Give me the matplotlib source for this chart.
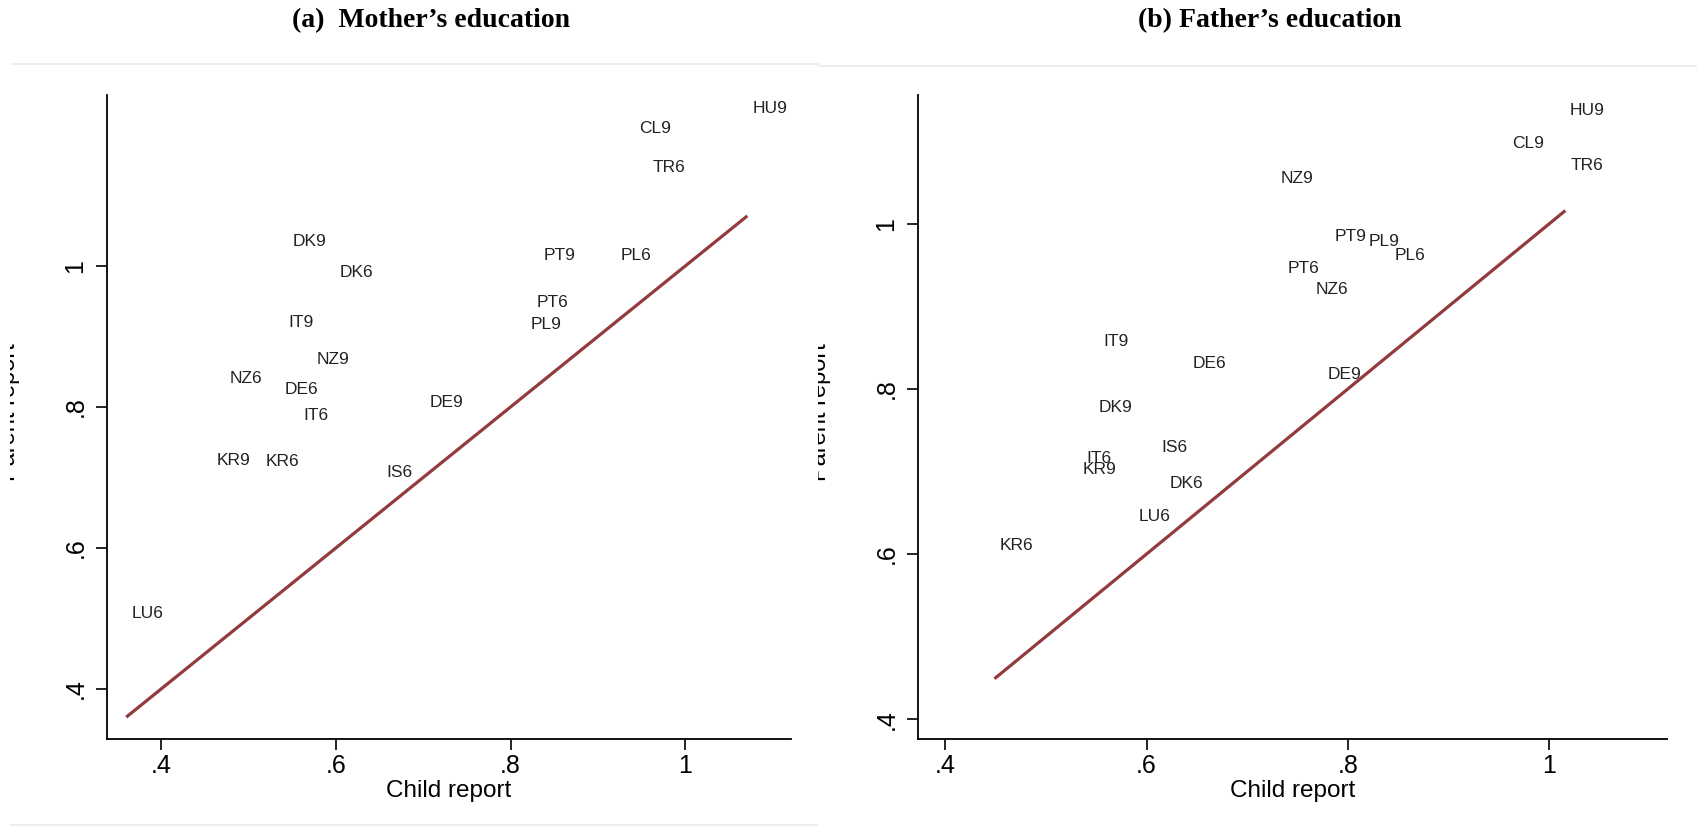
import matplotlib
matplotlib.use("Agg")
import matplotlib.pyplot as plt
from matplotlib.lines import Line2D
from matplotlib.transforms import Bbox

# valores por pais-grado: reporte del hijo vs reporte del padre/madre
cod_madre = ["HU9", "CL9", "TR6", "DK9", "DK6", "PT9", "PL6", "PT6", "PL9", "IT9",
             "NZ9", "NZ6", "DE6", "IT6", "DE9", "KR9", "KR6", "IS6", "LU6"]
hijo_madre = [1.071, 0.941, 0.956, 0.544, 0.598, 0.831, 0.920, 0.824, 0.817, 0.539,
              0.572, 0.472, 0.535, 0.556, 0.701, 0.457, 0.513, 0.651, 0.360]
padres_madre = [1.224, 1.195, 1.140, 1.034, 0.991, 1.015, 1.015, 0.948, 0.917, 0.920,
                0.867, 0.840, 0.825, 0.788, 0.807, 0.724, 0.722, 0.707, 0.507]

cod_padre = ["HU9", "CL9", "TR6", "NZ9", "PT9", "PL9", "PL6", "PT6", "NZ6", "IT9",
             "DE6", "DE9", "DK9", "IS6", "IT6", "KR9", "DK6", "LU6", "KR6"]
hijo_padre = [1.015, 0.958, 1.016, 0.728, 0.781, 0.815, 0.841, 0.735, 0.762, 0.552,
              0.640, 0.774, 0.547, 0.609, 0.535, 0.531, 0.617, 0.587, 0.449]
padres_padre = [1.137, 1.097, 1.071, 1.055, 0.985, 0.979, 0.961, 0.946, 0.921, 0.858,
                0.831, 0.818, 0.777, 0.729, 0.716, 0.703, 0.686, 0.645, 0.610]

ticks = [0.4, 0.6, 0.8, 1.0]
tick_txt = [".4", ".6", ".8", "1"]

plt.rcParams["font.family"] = ["Liberation Sans", "DejaVu Sans"]

W, H = 1697, 826
fig = plt.figure(figsize=(W / 100, H / 100), dpi=100)


def panel(rect, cods, xs, ys, xlim, ylim):
    ax = fig.add_axes(rect)
    lo, hi = min(xs), max(xs)
    ax.plot([lo, hi], [lo, hi], color="#933a3e", lw=2.3, solid_capstyle="butt", zorder=1)
    for c, x, y in zip(cods, xs, ys):
        ax.annotate(c, (x, y), xytext=(4, 0), textcoords="offset points",
                    ha="left", va="center", fontsize=12.5, color="#222222")
    ax.set_xlim(*xlim)
    ax.set_ylim(*ylim)
    ax.set_xticks(ticks, tick_txt)
    ax.set_yticks(ticks, tick_txt)
    for s in ["top", "right"]:
        ax.spines[s].set_visible(False)
    for s in ["left", "bottom"]:
        ax.spines[s].set_linewidth(1.3)
    ax.tick_params(axis="both", direction="out", length=8, width=1.2, labelsize=18)
    ax.tick_params(axis="x", pad=3)
    ax.tick_params(axis="y", pad=6)
    for t in ax.get_yticklabels():
        t.set_rotation(90)
        t.set_va("center")
    ax.set_xlabel("Child report", fontsize=17.5, labelpad=1)
    return ax


panel([107 / W, 1 - 739 / H, 684 / W, 644 / H], cod_madre, hijo_madre, padres_madre,
      (0.338, 1.121), (0.329, 1.2425))
panel([918 / W, 1 - 739 / H, 749 / W, 644 / H], cod_padre, hijo_padre, padres_padre,
      (0.373, 1.117), (0.376, 1.156))

# titulos
fig.text(431 / W, 1 - 21 / H, "(a)  Mother\u2019s education", ha="center", va="center",
         fontsize=20, fontweight="bold", family="Liberation Serif")
fig.text(1270 / W, 1 - 21 / H, "(b) Father\u2019s education", ha="center", va="center",
         fontsize=20, fontweight="bold", family="Liberation Serif")

# etiqueta del eje y, recortada en el borde de cada panel
for xc, xcorte in [(9, 10), (820, 818)]:
    t = fig.text(xc / W, 1 - 412 / H, "Parent report", rotation=90, ha="center",
                 va="center", fontsize=17)
    t.set_clip_on(True)
    t.set_clip_box(Bbox([[xcorte, 0], [W, H]]))

# bordes tenues de cada panel
gris = "#e6eeee"
fig.add_artist(Line2D([11 / W, 818 / W], [1 - 64 / H, 1 - 64 / H], color=gris, lw=1.2))
fig.add_artist(Line2D([818 / W, 1.0], [1 - 66 / H, 1 - 66 / H], color=gris, lw=1.2))
fig.add_artist(Line2D([11 / W, 818 / W], [1 - 825 / H, 1 - 825 / H], color=gris, lw=1.2))

fig.savefig("out.png", dpi=100)
